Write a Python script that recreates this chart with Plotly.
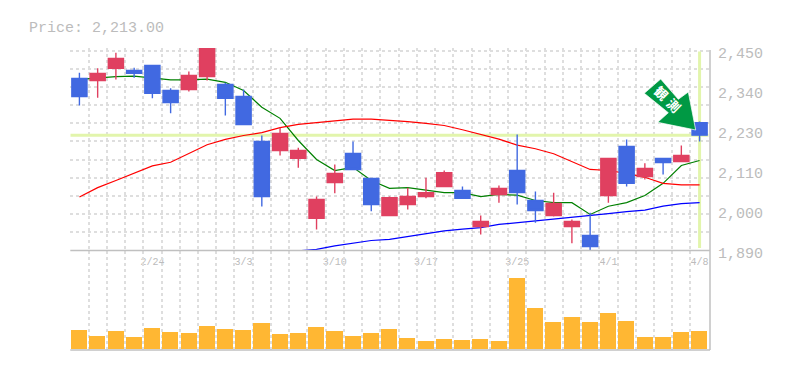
import plotly.graph_objects as go

index = list(range(35))
opens = [2372,2366,2400,2394,2408,2338,2341,2377,2355,2321,2195,2170,2148,1980,2080,2162,2092,1988,2019,2041,2069,2058,1957,2047,2114,2030,1988,1957,1932,2044,2181,2097,2148,2139,2248]
highs = [2388,2400,2444,2402,2408,2344,2391,2478,2360,2341,2212,2234,2178,2041,2131,2195,2092,2041,2066,2094,2114,2069,1988,2072,2215,2055,2052,1977,1996,2148,2201,2134,2150,2184,2251]
lows = [2296,2318,2369,2374,2316,2274,2335,2366,2268,2243,2013,2156,2122,1949,2050,2117,2000,1988,2005,2036,2069,2036,1935,2024,2019,1968,1985,1910,1887,2024,2069,2089,2103,2139,2195]
closes = [2321,2386,2428,2386,2330,2304,2380,2478,2316,2243,2041,2218,2170,2033,2106,2117,2019,2038,2041,2052,2108,2036,1971,2064,2052,2002,2022,1971,1901,2148,2078,2120,2136,2156,2213]
ma_short = [2369,2374,2377,2378,2374,2368,2368,2370,2361,2338,2291,2260,2198,2145,2114,2123,2086,2064,2066,2058,2052,2052,2041,2047,2045,2030,2024,2024,1991,2014,2024,2044,2078,2128,2142]
ma_mid = [2040,2066,2086,2106,2127,2137,2161,2186,2201,2212,2220,2234,2243,2248,2251,2258,2258,2255,2251,2246,2240,2228,2215,2202,2185,2175,2161,2139,2117,2114,2106,2095,2078,2074,2074]
ma_long = [None]*12 + [1889,1893,1903,1910,1918,1921,1929,1937,1945,1950,1954,1963,1968,1973,1977,1983,1986,1993,1999,2003,2014,2021,2024]
volumes = [19,13,18,12,21,17,16,23,20,19,26,15,16,22,18,13,16,20,11,8,10,9,10,8,71,41,27,32,27,36,28,12,12,17,18]
date_positions = [4,9,14,19,24,29,34]
date_labels = ["2/24","3/3","3/10","3/17","3/25","4/1","4/8"]
price_labels = ["2,450","2,340","2,230","2,110","2,000","1,890"]
price_label_values = [2450,2338,2226,2114,2002,1890]
current_price = 2213
title_text = "Price: 2,213.00"

W, H = 785, 370
GRID = "#dedede"
AXIS = "#c0c0c0"
TEXT = "#bcbcbc"
HL = "#e2f5ac"
MONO = "Liberation Mono, monospace"
PX0, PX1 = 70.3, 708.7
PTOP, PBOT, VBOT = 48.0, 250.5, 350.0
def fx(x): return x / W
def fy(y): return 1 - y / H

fig = go.Figure()
fig.add_trace(go.Scatter(x=[-0.5, 34.5], y=[current_price, current_price], mode="lines",
                         line=dict(color=HL, width=3), xaxis="x", yaxis="y", hoverinfo="skip"))
fig.add_trace(go.Scatter(x=[34, 34], y=[1897, 2447], mode="lines",
                         line=dict(color=HL, width=3), xaxis="x", yaxis="y", hoverinfo="skip"))
for vals, col in ((ma_short, "#008000"), (ma_mid, "#ff0000"), (ma_long, "#0000ff")):
    fig.add_trace(go.Scatter(x=index, y=vals, mode="lines", line=dict(color=col, width=1.2),
                             xaxis="x", yaxis="y", hoverinfo="skip"))
fig.add_trace(go.Candlestick(x=index, open=opens, high=highs, low=lows, close=closes,
                             increasing=dict(line=dict(color="#e04060", width=1.4), fillcolor="#e04060"),
                             decreasing=dict(line=dict(color="#4169e1", width=1.4), fillcolor="#4169e1"),
                             whiskerwidth=0, xaxis="x", yaxis="y3"))
fig.add_trace(go.Bar(x=index, y=volumes, width=0.88, marker=dict(color="#ffb733", line=dict(width=0)),
                     xaxis="x2", yaxis="y2"))

yr = [1890, 2450 + (50.5 - PTOP) * 2.8]
minor_grid = dict(tick0=-0.5, dtick=1, showgrid=True, gridcolor=GRID, gridwidth=1.5, griddash="3px,3px", ticklen=0)
common_x = dict(range=[-0.5, 34.5], showline=False, zeroline=False, showgrid=False, minor=minor_grid)
fig.update_layout(
    width=W, height=H, margin=dict(l=0, r=0, t=0, b=0), showlegend=False,
    paper_bgcolor="white", plot_bgcolor="white", boxgap=0.17, boxgroupgap=0, bargap=0,
    font=dict(family=MONO, color=TEXT),
    xaxis=dict(domain=[fx(PX0), fx(PX1)], anchor="y", rangeslider=dict(visible=False),
               tickmode="array", tickvals=date_positions, ticktext=date_labels,
               tickfont=dict(family=MONO, size=10, color=TEXT), ticks="outside", ticklen=1,
               tickcolor="rgba(0,0,0,0)", **common_x),
    xaxis2=dict(domain=[fx(PX0), fx(PX1)], anchor="y2", showticklabels=False, ticks="", **common_x),
    yaxis=dict(domain=[fy(PBOT), fy(PTOP)], range=yr, tick0=1890, dtick=560 / 11, showticklabels=False,
               ticks="", showgrid=True, gridcolor=GRID, gridwidth=1.5, griddash="3px,3px", zeroline=False),
    yaxis3=dict(domain=[fy(PBOT), fy(PTOP)], range=yr, overlaying="y", visible=False, anchor="x"),
    yaxis2=dict(domain=[fy(VBOT), fy(PBOT)], range=[-2, 97.5], showticklabels=False, ticks="",
                showgrid=False, zeroline=False),
)
for x0, y0, x1, y1 in ((PX0, PBOT, 710, PBOT), (PX0, VBOT, 710, VBOT), (710, 50, 710, VBOT)):
    fig.add_shape(type="line", xref="paper", yref="paper", x0=fx(x0), x1=fx(x1), y0=fy(y0), y1=fy(y1),
                  line=dict(color=AXIS, width=1.5), layer="above")
arrow = [(644.3,93.3),(660.7,79),(678.3,99.3),(688.3,92),(695.7,130),(657.7,122.3),(668.3,112.7)]
path = "M " + " L ".join(f"{fx(a)},{fy(b)}" for a, b in arrow) + " Z"
fig.add_shape(type="path", path=path, xref="paper", yref="paper", fillcolor="#009944",
              line=dict(color="white", width=0.7), layer="above")
for ch, (cx, cy) in (("観", (660, 94.3)), ("測", (672.7, 106.7))):
    fig.add_shape(type="rect", xref="paper", yref="paper", x0=fx(cx - 6), x1=fx(cx + 6), y0=fy(cy - 6), y1=fy(cy + 6),
                  line=dict(width=0), fillcolor="rgba(0,0,0,0)", layer="above",
                  label=dict(text=ch, textangle=45, textposition="middle center",
                             font=dict(family="Noto Sans CJK JP", size=13, color="#ffffff", weight="bold")))
for v, t in zip(price_label_values, price_labels):
    fig.add_annotation(xref="paper", yref="y", x=fx(716), y=v, yshift=-3.5, text=t, showarrow=False, xanchor="left",
                       font=dict(family=MONO, size=15, color=TEXT))
fig.add_annotation(xref="paper", yref="paper", x=fx(27), y=fy(18), text=title_text, showarrow=False, xanchor="left",
                   font=dict(family=MONO, size=15, color=TEXT))
fig.write_html("out.html", config=dict(displayModeBar=False),
               post_script="document.body.style.margin='0';document.body.style.overflow='hidden';")
